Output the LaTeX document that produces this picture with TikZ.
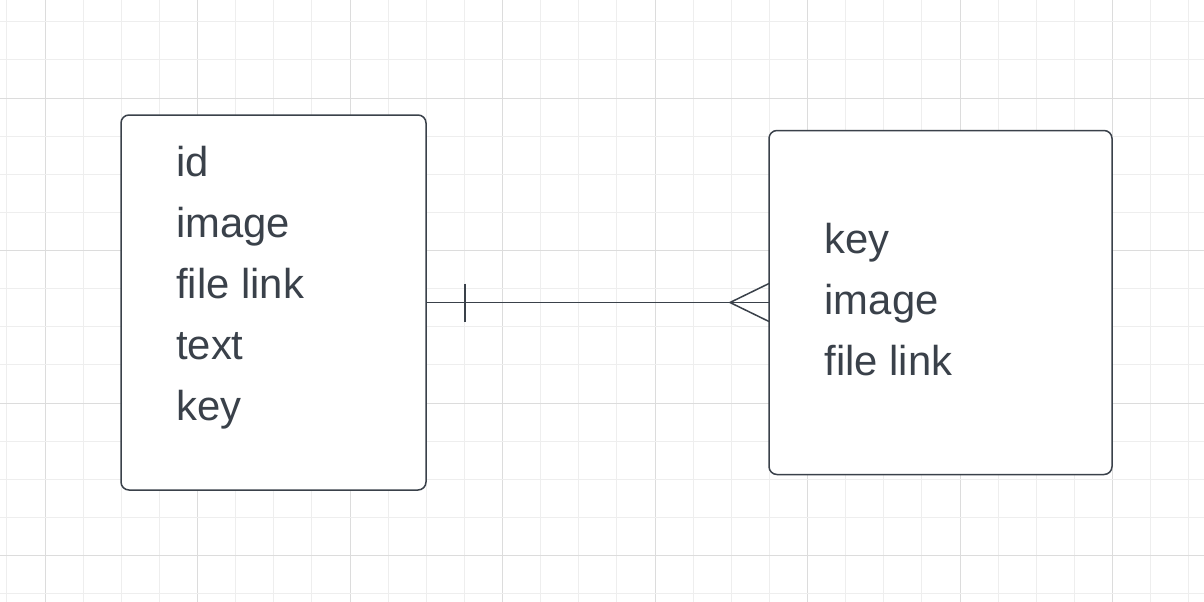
\documentclass[tikz,border=0pt]{standalone}
\usepackage{fontspec}
\setmainfont{Liberation Sans}
\usetikzlibrary{calc}
\definecolor{ink}{HTML}{3A414A}
\definecolor{gridminor}{HTML}{EEEEEE}
\definecolor{gridmajor}{HTML}{DCDCDC}
\tikzset{
  entity/.style={draw=ink, line width=1.5pt, rounded corners=8pt, fill=white, inner sep=0pt, outer sep=0pt},
  attr/.style={anchor=base west, text=ink, inner sep=0pt, font=\fontsize{41.8}{50}\selectfont},
  rel/.style={draw=ink, line width=1.5pt},
}
\begin{document}
\begin{tikzpicture}[x=1pt,y=-1pt]
\useasboundingbox (0,0) rectangle (1204,602);
\fill[white] (0,0) rectangle (1204,602);
% grid
\foreach \k in {-1,...,30} {
  \pgfmathsetmacro{\xx}{45+38.125*\k}
  \pgfmathtruncatemacro{\m}{mod(\k+4,4)}
  \ifnum\m=0 \draw[gridmajor,line width=1pt] (\xx,0) -- (\xx,602);
  \else \draw[gridminor,line width=1pt] (\xx,0) -- (\xx,602); \fi
}
\foreach \k in {-2,...,13} {
  \pgfmathsetmacro{\yy}{98+38.125*\k}
  \pgfmathtruncatemacro{\m}{mod(\k+8,4)}
  \ifnum\m=0 \draw[gridmajor,line width=1pt] (0,\yy) -- (1204,\yy);
  \else \draw[gridminor,line width=1pt] (0,\yy) -- (1204,\yy); \fi
}
% entities
\node[entity, minimum width=305pt, minimum height=375pt] (L) at (273.5,302.5) {};
\node[entity, minimum width=343pt, minimum height=344pt] (R) at (940.5,302.5) {};
% attributes
\node[attr] (l1) at (176,176) {id};
\node[attr] (l2) at (176,237) {image};
\node[attr] (l3) at (176,298) {file link};
\node[attr] (l4) at (176,359) {text};
\node[attr] (l5) at (176,420) {key};
\node[attr] (r1) at (824.5,253.5) {key};
\node[attr] (r2) at (824.5,314.5) {image};
\node[attr] (r3) at (824.5,375.5) {file link};
% relationship
\draw[rel] (L.east) -- (R.west);
\coordinate (tick) at ($(L.east)+(39,0)$);
\draw[rel] ($(tick)+(0,-19)$) -- ($(tick)+(0,19)$);
\coordinate (crow) at ($(R.west)+(-39,0)$);
\draw[rel] ($(R.west)+(0,-19)$) -- (crow) -- ($(R.west)+(0,19)$);
\end{tikzpicture}
\end{document}
